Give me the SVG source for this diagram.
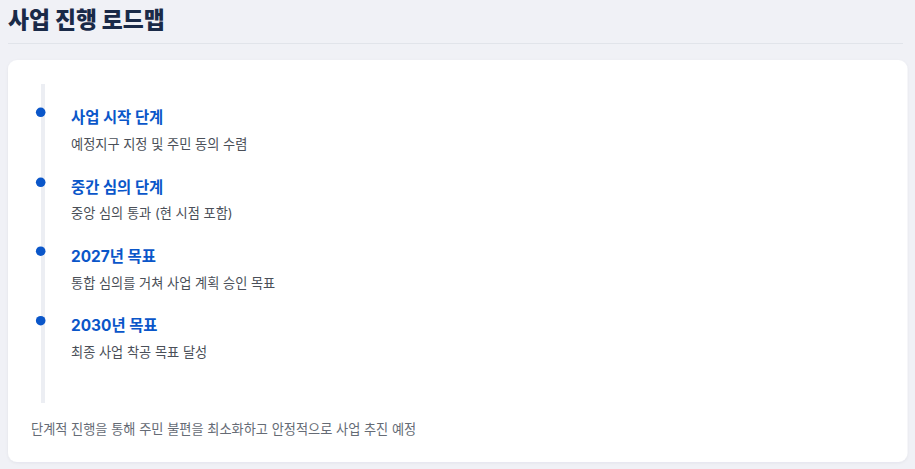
<svg xmlns="http://www.w3.org/2000/svg" width="915" height="469" viewBox="0 0 915 469">
  <defs>
    <style>
      .kr { font-family: "Inter", "Noto Sans CJK KR", "Noto Sans", sans-serif; }
      .h1 { font-size: 22.8px; font-weight: 800; fill: #1a2a48; }
      .step { font-size: 15.4px; font-weight: 700; fill: #0a56c9; }
      .desc { font-size: 13.2px; font-weight: 400; fill: #4a4f58; }
      .note { font-size: 13.2px; font-weight: 400; fill: #656b75; }
      .dot { fill: #0a56c9; }
    </style>
    <filter id="sh" x="-5%" y="-5%" width="110%" height="115%">
      <feDropShadow dx="0" dy="1" stdDeviation="1.5" flood-color="#1a2a48" flood-opacity="0.06"/>
    </filter>
  </defs>
  <rect x="0" y="0" width="915" height="469" fill="#f0f1f6"/>
  <g id="header">
    <text class="kr h1" x="8" y="28">사업 진행 로드맵</text>
    <rect x="8" y="43" width="895" height="1" fill="#e1e4ea"/>
  </g>
  <g id="card">
    <rect x="8" y="60" width="899.5" height="402" rx="9" fill="#ffffff" filter="url(#sh)"/>
  </g>
  <g id="connectors">
    <rect x="41" y="84" width="4" height="319" fill="#eceef3"/>
  </g>
  <g id="step1">
    <circle class="dot" cx="40.7" cy="112.3" r="4.8"/>
    <text class="kr step" x="71" y="123">사업 시작 단계</text>
    <text class="kr desc" x="71" y="148.5">예정지구 지정 및 주민 동의 수렴</text>
  </g>
  <g id="step2">
    <circle class="dot" cx="40.7" cy="182.3" r="4.8"/>
    <text class="kr step" x="71" y="192.5">중간 심의 단계</text>
    <text class="kr desc" x="71" y="218">중앙 심의 통과 (현 시점 포함)</text>
  </g>
  <g id="step3">
    <circle class="dot" cx="40.7" cy="251.2" r="4.8"/>
    <text class="kr step" x="71" y="262">2027년 목표</text>
    <text class="kr desc" x="71" y="287.5">통합 심의를 거쳐 사업 계획 승인 목표</text>
  </g>
  <g id="step4">
    <circle class="dot" cx="40.7" cy="320.7" r="4.8"/>
    <text class="kr step" x="71" y="331">2030년 목표</text>
    <text class="kr desc" x="71" y="356.5">최종 사업 착공 목표 달성</text>
  </g>
  <g id="footer">
    <text class="kr note" x="31" y="433.5">단계적 진행을 통해 주민 불편을 최소화하고 안정적으로 사업 추진 예정</text>
  </g>
</svg>
